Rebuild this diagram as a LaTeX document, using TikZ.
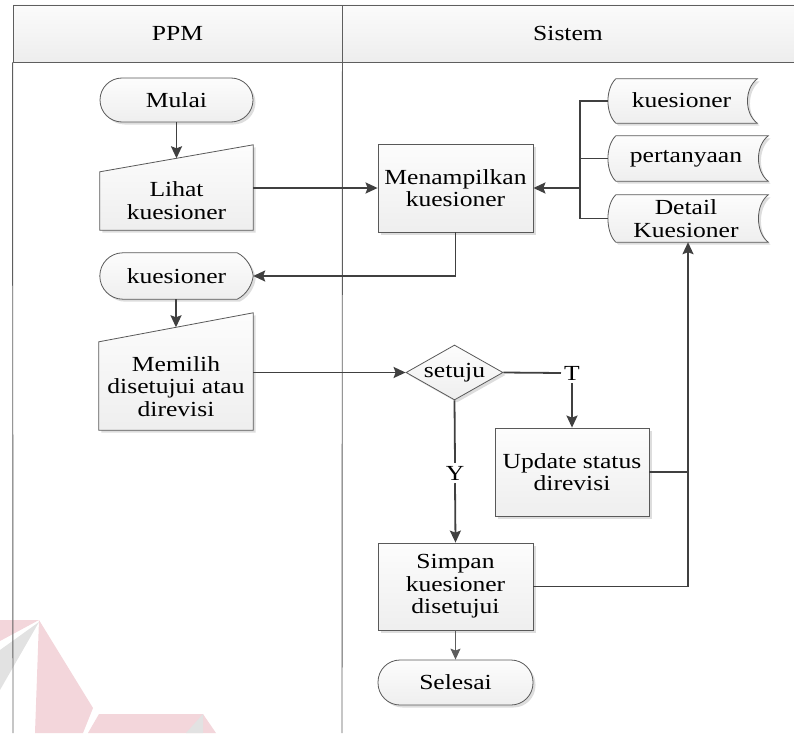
\documentclass[tikz,border=0pt]{standalone}
\usepackage{fontspec}
\setmainfont{Liberation Serif}[FakeStretch=1.19]
\usetikzlibrary{arrows.meta,shapes.geometric,shadows,calc}

\definecolor{linecol}{HTML}{404040}
\definecolor{boxline}{HTML}{595959}
\definecolor{laneline}{HTML}{5E5E5E}
\definecolor{markpink}{HTML}{F3D6DB}
\definecolor{markgrey}{HTML}{E2E2E2}

\tikzset{
  txt/.style={font=\fontsize{21.5}{22.5}\selectfont, text=black, align=center},
  lane/.style={draw=laneline, line width=0.9pt},
  headcell/.style={txt, rectangle, draw=laneline, line width=0.9pt,
    top color=gray!3, bottom color=gray!14, inner sep=0pt},
  boxfill/.style={draw=boxline, line width=0.8pt, top color=gray!2, bottom color=gray!13,
    drop shadow={shadow xshift=2.5pt, shadow yshift=-2.5pt, fill=gray!45, opacity=0.6}},
  procbox/.style={txt, rectangle, boxfill, inner sep=0pt},
  termbox/.style={procbox, rounded corners=22pt},
  frame/.style={rectangle, inner sep=0pt},
  decision/.style={txt, diamond, aspect=1.76, boxfill, inner sep=0pt,
    minimum width=97pt, minimum height=55pt},
  tag/.style={txt, inner sep=3pt},
  link/.style={draw=linecol, line width=1.8pt},
  flow/.style={link, -{Stealth[length=12pt,width=11pt,inset=2pt]}},
  thinflow/.style={draw=linecol!85, line width=1.2pt, -{Stealth[length=11pt,width=10pt,inset=2pt]}},
}

% manual input: slanted top edge, drop given in px
\newcommand\manualinput[2]{%
  \path[boxfill] (#1.south west) -- ($(#1.north west)+(0,#2)$) -- (#1.north east)
    -- (#1.south east) -- cycle;}
% stored data: convex left side, concave right side
\newcommand\storeddata[1]{%
  \path[boxfill] ($(#1.north west)+(8,0)$) -- (#1.north east)
    .. controls ($(#1.north east)+(-13,10)$) and ($(#1.south east)+(-13,-10)$) .. (#1.south east)
    -- ($(#1.south west)+(8,0)$)
    .. controls ($(#1.south west)+(-2.5,-10)$) and ($(#1.north west)+(-2.5,10)$) .. cycle;}
% display: round left end, pointed right end
\newcommand\displayshape[1]{%
  \path[boxfill] ($(#1.north west)+(23,0)$) -- ($(#1.north east)+(-16,0)$)
    .. controls ($(#1.north east)+(-6,5)$) and ($(#1.east)+(-1,-8)$) .. (#1.east)
    .. controls ($(#1.east)+(-1,8)$) and ($(#1.south east)+(-6,-5)$) .. ($(#1.south east)+(-16,0)$)
    -- ($(#1.south west)+(23,0)$)
    .. controls ($(#1.south west)+(10.3,0)$) and ($(#1.west)+(0,12.7)$) .. (#1.west)
    .. controls ($(#1.west)+(0,-12.7)$) and ($(#1.north west)+(10.3,0)$) .. cycle;}

\begin{document}
\begin{tikzpicture}[x=1pt,y=-1pt]
\useasboundingbox (0,0) rectangle (794,733);

% faint logo in the lower left corner
\fill[markpink] (0,620) -- (39,620) -- (0,641) -- cycle;
\fill[markgrey] (39,622) -- (0,650) -- (0,690) -- cycle;
\fill[markpink] (39,620) -- (93,708) -- (83,733) -- (35,733) -- cycle;
\fill[markpink] (99,714) -- (203,714) -- (216,733) -- (88,733) -- cycle;
\fill[markgrey] (203,714) -- (186,733) -- (203,733) -- cycle;

% swimlane header
\node[headcell, minimum width=329pt, minimum height=57pt] (hppm) at (177.5,33.5) {PPM};
\node[headcell, minimum width=452pt, minimum height=57pt] (hsis) at (568,33.5) {Sistem};
\coordinate (laneA) at (13,733);
\coordinate (laneB) at (342,733);
\draw[lane] (hppm.south west) -- (laneA);
\draw[lane] (hppm.south east) -- (laneB);

% PPM lane
\node[termbox, minimum width=153pt, minimum height=44pt] (mulai) at (176.5,100) {Mulai};

\node[frame, minimum width=153pt, minimum height=85pt] (lihat) at (176.5,187.5) {};
\manualinput{lihat}{27}
\node[txt] (lihatT) at ($(lihat.center)+(0,13)$) {Lihat\\kuesioner};

\node[frame, minimum width=153pt, minimum height=46pt] (disp) at (176.5,276) {};
\displayshape{disp}
\node[txt] (dispT) at (disp.center) {kuesioner};

\node[frame, minimum width=154pt, minimum height=117pt] (memilih) at (176,371.5) {};
\manualinput{memilih}{29}
\node[txt] (memilihT) at ($(memilih.center)+(0,15)$) {Memilih\\disetujui atau\\direvisi};

% Sistem lane
\node[procbox, minimum width=155pt, minimum height=88pt] (tampil) at (455.5,188) {Menampilkan\\kuesioner};

\node[frame, minimum width=149pt, minimum height=44pt] (dkues) at (682.5,101) {};
\storeddata{dkues}
\node[txt] (dkuesT) at ($(dkues.center)+(-1,-1)$) {kuesioner};

\node[frame, minimum width=160pt, minimum height=45pt] (dtanya) at (688,158.5) {};
\storeddata{dtanya}
\node[txt] (dtanyaT) at ($(dtanya.center)+(-2,0)$) {pertanyaan};

\node[frame, minimum width=160pt, minimum height=47pt] (ddetail) at (688,218.5) {};
\storeddata{ddetail}
\node[txt] (ddetailT) at ($(ddetail.center)+(-2,0)$) {Detail\\Kuesioner};

\node[decision] (setuju) at (454.5,372.5) {setuju};
\node[tag] (tlab) at (572,373) {T};
\node[tag] (ylab) at (455,473) {Y};

\node[procbox, minimum width=154pt, minimum height=88pt] (update) at (572,472) {Update status\\direvisi};
\node[procbox, minimum width=155pt, minimum height=87pt] (simpan) at (455.5,586.5) {Simpan\\kuesioner\\disetujui};
\node[termbox, minimum width=155pt, minimum height=45pt] (selesai) at (455.5,682.5) {Selesai};

% connectors
\draw[flow] (mulai.south) -- ([yshift=-13.5pt]lihat.north);
\draw[flow] (lihat.east |- tampil.west) -- (tampil.west);
\draw[flow] (tampil.south) |- (disp.east);
\draw[flow] (disp.south -| memilih.north) -- ([yshift=-14.5pt]memilih.north);
\draw[flow] (memilih.east |- setuju.west) -- (setuju.west);

\coordinate (bus) at (580,188);
\draw[link] (dkues.west) -| (bus);
\draw[link] (ddetail.west) -| (bus);
\draw[link] (dtanya.west) -- (dtanya.west -| bus);
\draw[flow] (bus) -- (tampil.east);

\draw[link] (setuju.east) -- (tlab.west);
\draw[flow] (tlab.south) -- (update.north);
\draw[link] (setuju.south) -- (ylab.north);
\draw[flow] (ylab.south) -- (simpan.north);

\draw[link] (update.east) -- (update.east -| ddetail.south);
\draw[flow] (simpan.east) -| (ddetail.south);
\draw[thinflow] (simpan.south) -- (selesai.north);
\end{tikzpicture}
\end{document}
